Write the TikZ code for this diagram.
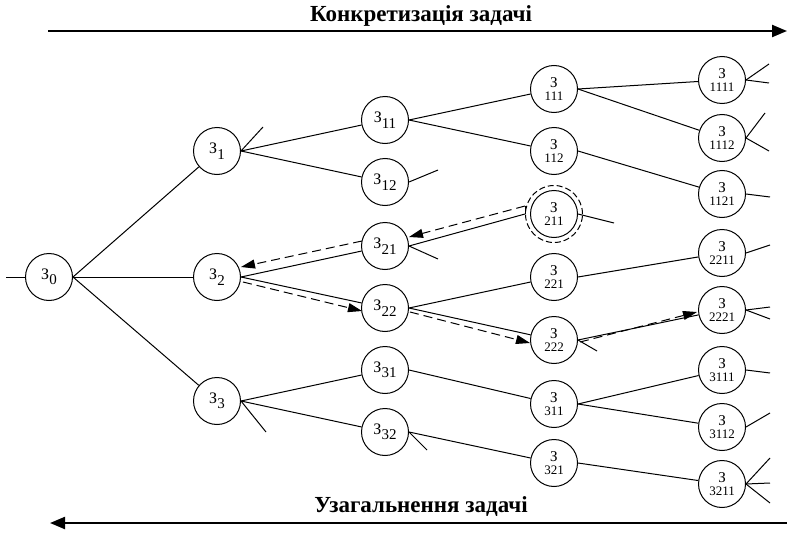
\documentclass[tikz,border=0pt]{standalone}
\usepackage{fontspec}
\setmainfont{Liberation Serif}
\usetikzlibrary{arrows.meta}
\newcommand{\zsub}[1]{З\raisebox{-5.5pt}{\fontsize{15}{15}\selectfont #1}}
\newcommand{\zdeep}[1]{{\fontsize{15}{13}\selectfont З}\\#1}
\begin{document}
\begin{tikzpicture}[x=1pt,y=-1pt,
  circ/.style={circle,draw,minimum size=47pt,inner sep=0pt,line width=1pt},
  shallow/.style={circ,font=\fontsize{16}{16}\selectfont},
  deep/.style={circ,font=\fontsize{13}{13.5}\selectfont,align=center},
  edge/.style={line width=1pt},
  dasharr/.style={line width=1pt,dash pattern=on 9pt off 5pt,-{Triangle[length=14pt,width=9pt]}},
  bigarr/.style={line width=2.2pt,-{Triangle[length=15pt,width=12pt]}},
  title/.style={font=\bfseries\fontsize{23}{23}\selectfont}]
\useasboundingbox (0,0) rectangle (787,535);
% titles and big arrows
\node[title] (t1) at (421,16) {Конкретизація задачі};
\node[title] (t2) at (421,507) {Узагальнення задачі};
\coordinate (tl) at (48,31); \coordinate (tr) at (787,31);
\coordinate (bl) at (50,523); \coordinate (br) at (787,523);
\draw[bigarr] (tl) -- (tr);
\draw[bigarr] (br) -- (bl);
% nodes
\node[shallow] (z0) at (49,277) {\zsub{0}};
\node[shallow] (z1) at (217,151) {\zsub{1}};
\node[shallow] (z2) at (217,277) {\zsub{2}};
\node[shallow] (z3) at (217,401) {\zsub{3}};
\node[shallow] (z11) at (385,120) {\zsub{11}};
\node[shallow] (z12) at (385,182) {\zsub{12}};
\node[shallow] (z21) at (385,246) {\zsub{21}};
\node[shallow] (z22) at (385,308) {\zsub{22}};
\node[shallow] (z31) at (385,370) {\zsub{31}};
\node[shallow] (z32) at (385,432) {\zsub{32}};
\node[deep] (z111) at (554,89) {\zdeep{111}};
\node[deep] (z112) at (554,151) {\zdeep{112}};
\node[deep] (z211) at (554,214) {\zdeep{211}};
\node[circ,dash pattern=on 6pt off 3pt,minimum size=57pt] (z211o) at (554,214) {};
\node[deep] (z221) at (554,277) {\zdeep{221}};
\node[deep] (z222) at (554,340) {\zdeep{222}};
\node[deep] (z311) at (554,404) {\zdeep{311}};
\node[deep] (z321) at (554,463) {\zdeep{321}};
\node[deep] (z1111) at (722,80) {\zdeep{1111}};
\node[deep] (z1112) at (722,138) {\zdeep{1112}};
\node[deep] (z1121) at (722,194) {\zdeep{1121}};
\node[deep] (z2211) at (722,253) {\zdeep{2211}};
\node[deep] (z2221) at (722,310) {\zdeep{2221}};
\node[deep] (z3111) at (722,370) {\zdeep{3111}};
\node[deep] (z3112) at (722,427) {\zdeep{3112}};
\node[deep] (z3211) at (722,484) {\zdeep{3211}};
% tree edges
\draw[edge] (z0.east) -- (z1);
\draw[edge] (z0.east) -- (z2);
\draw[edge] (z0.east) -- (z3);
\draw[edge] (z1.east) -- (z11);
\draw[edge] (z1.east) -- (z12);
\draw[edge] (z11.east) -- (z111);
\draw[edge] (z11.east) -- (z112);
\draw[edge] (z111.east) -- (z1111);
\draw[edge] (z111.east) -- (z1112);
\draw[edge] (z112.east) -- (z1121);
\draw[edge] (z2.east) -- (z21);
\draw[edge] (z2.east) -- (z22);
\draw[edge] (z21.east) -- (z211o.west);
\draw[edge] (z22.east) -- (z221);
\draw[edge] (z22.east) -- (z222);
\draw[edge] (z221.east) -- (z2211);
\draw[edge] (z222.east) -- (z2221);
\draw[edge] (z3.east) -- (z31);
\draw[edge] (z3.east) -- (z32);
\draw[edge] (z31.east) -- (z311);
\draw[edge] (z32.east) -- (z321);
\draw[edge] (z311.east) -- (z3111);
\draw[edge] (z311.east) -- (z3112);
\draw[edge] (z321.east) -- (z3211);
% free stubs
\coordinate (s0) at (6,277);
\coordinate (s1) at (263,127);
\coordinate (s12) at (438,170);
\coordinate (s21) at (438,259);
\coordinate (s211) at (614,223);
\coordinate (s3) at (266,432);
\coordinate (s32) at (427,450);
\coordinate (s222) at (597,351);
\coordinate (s1111a) at (769,64); \coordinate (s1111b) at (769,83);
\coordinate (s1112a) at (765,113); \coordinate (s1112b) at (769,151);
\coordinate (s1121) at (770,197);
\coordinate (s2211) at (770,245);
\coordinate (s2221a) at (770,307); \coordinate (s2221b) at (770,319);
\coordinate (s3111) at (770,373);
\coordinate (s3112) at (770,413);
\coordinate (s3211a) at (770,458); \coordinate (s3211b) at (770,483); \coordinate (s3211c) at (770,503);
\draw[edge] (s0) -- (z0.west);
\draw[edge] (z1.east) -- (s1);
\draw[edge] (z12.east) -- (s12);
\draw[edge] (z21.east) -- (s21);
\draw[edge] (z211.east) -- (s211);
\draw[edge] (z3.east) -- (s3);
\draw[edge] (z32.east) -- (s32);
\draw[edge] (z222.east) -- (s222);
\draw[edge] (z1111.east) -- (s1111a);
\draw[edge] (z1111.east) -- (s1111b);
\draw[edge] (z1112.east) -- (s1112a);
\draw[edge] (z1112.east) -- (s1112b);
\draw[edge] (z1121.east) -- (s1121);
\draw[edge] (z2211.east) -- (s2211);
\draw[edge] (z2221.east) -- (s2221a);
\draw[edge] (z2221.east) -- (s2221b);
\draw[edge] (z3111.east) -- (s3111);
\draw[edge] (z3112.east) -- (s3112);
\draw[edge] (z3211.east) -- (s3211a);
\draw[edge] (z3211.east) -- (s3211b);
\draw[edge] (z3211.east) -- (s3211c);
% dashed search path
\draw[edge] (z211o.west) -- ([shift={(0,-8)}]z211o.west) coordinate (d1s);
\draw[dasharr] (d1s) -- ([shift={(24,-9)}]z21.center);
\draw[dasharr] ([shift={(-23,-5)}]z21.center) -- ([shift={(24,-10)}]z2.center);
\draw[dasharr] ([shift={(26,5)}]z2.center) -- ([shift={(-23,3)}]z22.center);
\draw[dasharr] ([shift={(25,4)}]z22.center) -- ([shift={(-24,3)}]z222.center);
\draw[dasharr] ([shift={(26,2)}]z222.center) -- ([shift={(-25,2)}]z2221.center);
\end{tikzpicture}
\end{document}
